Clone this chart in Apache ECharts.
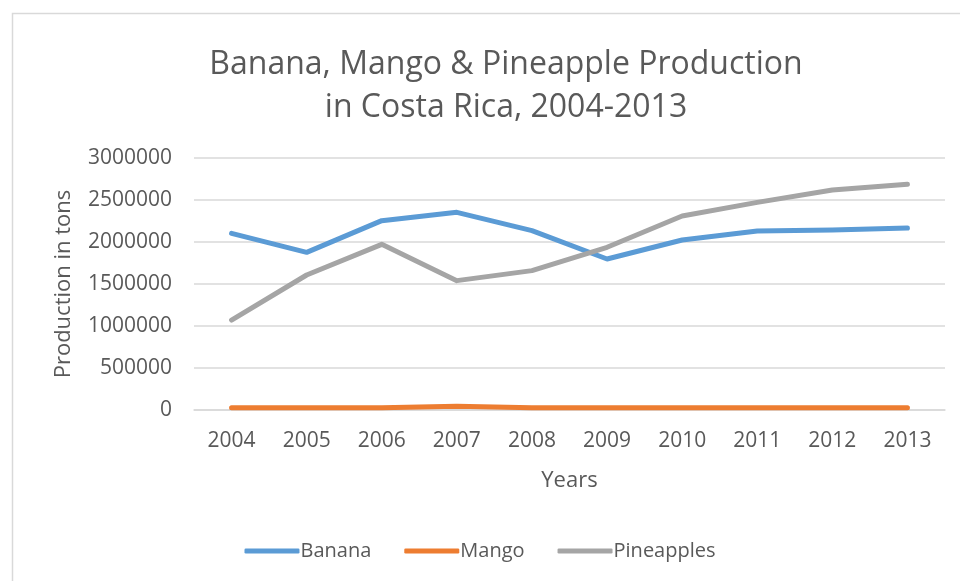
<!DOCTYPE html>
<html><head><meta charset="utf-8">
<script src="https://cdn.jsdelivr.net/npm/echarts@6/dist/echarts.min.js"></script>
<style>html,body{margin:0;padding:0;background:#fff}#c{width:960px;height:581px}</style>
</head><body><div id="c"></div>
<script>
const years = ['2004','2005','2006','2007','2008','2009','2010','2011','2012','2013'];
const banana = [2103000,1877000,2254000,2353000,2135000,1798000,2024000,2131000,2143000,2167000];
const mango = [27000,27000,27000,45000,27000,27000,27000,27000,27000,27000];
const pineapples = [1071000,1607000,1972000,1540000,1659000,1937000,2310000,2472000,2619000,2687000];
const yTicks = [0,500000,1000000,1500000,2000000,2500000,3000000];

const font = 'Open Sans, Liberation Sans, sans-serif';
const txt = '#595959';
const chart = echarts.init(document.getElementById('c'));
const mk = (name, data, color) => ({
  name, type: 'line', data, symbol: 'none', smooth: false,
  lineStyle: {color, width: 5, cap: 'round', join: 'round'}, itemStyle: {color}
});
chart.setOption({
  animation: false,
  graphic: [{type: 'rect', shape: {x: 12.5, y: 13.5, width: 960, height: 600},
    style: {fill: 'none', stroke: '#D9D9D9', lineWidth: 1.5}}],
  title: {
    text: 'Banana, Mango & Pineapple Production\nin Costa Rica, 2004-2013',
    left: 501, top: 38, textAlign: 'center',
    textStyle: {fontFamily: font, fontSize: 32, fontWeight: 'normal', color: txt, lineHeight: 43}
  },
  legend: {
    bottom: 15, left: 'center', itemWidth: 55, itemHeight: 5, itemGap: 33,
    icon: 'roundRect',
    textStyle: {fontFamily: font, fontSize: 20, color: txt, padding: [0,0,0,-4]},
    data: ['Banana','Mango','Pineapples']
  },
  grid: {left: 194, right: 15, top: 158, bottom: 171, containLabel: false},
  xAxis: {
    type: 'category', data: years, boundaryGap: true,
    name: 'Years', nameLocation: 'middle', nameGap: 60,
    nameTextStyle: {fontFamily: font, fontSize: 22, color: txt},
    axisLine: {show: true, lineStyle: {color: '#D9D9D9', width: 1.5}},
    axisTick: {show: false},
    axisLabel: {fontFamily: font, fontSize: 21, color: txt, margin: 21}
  },
  yAxis: {
    type: 'value', min: 0, max: 3000000, interval: 500000,
    name: 'Production in tons', nameLocation: 'middle', nameGap: 119, nameRotate: 90,
    nameTextStyle: {fontFamily: font, fontSize: 22, color: txt},
    axisLine: {show: false}, axisTick: {show: false},
    splitLine: {lineStyle: {color: '#D9D9D9', width: 1.5}},
    axisLabel: {fontFamily: font, fontSize: 21, color: txt, margin: 22,
      formatter: v => yTicks.includes(v) ? String(v) : ''}
  },
  series: [
    mk('Banana', banana, '#5B9BD5'),
    mk('Mango', mango, '#ED7D31'),
    mk('Pineapples', pineapples, '#A5A5A5')
  ]
});
</script></body></html>
